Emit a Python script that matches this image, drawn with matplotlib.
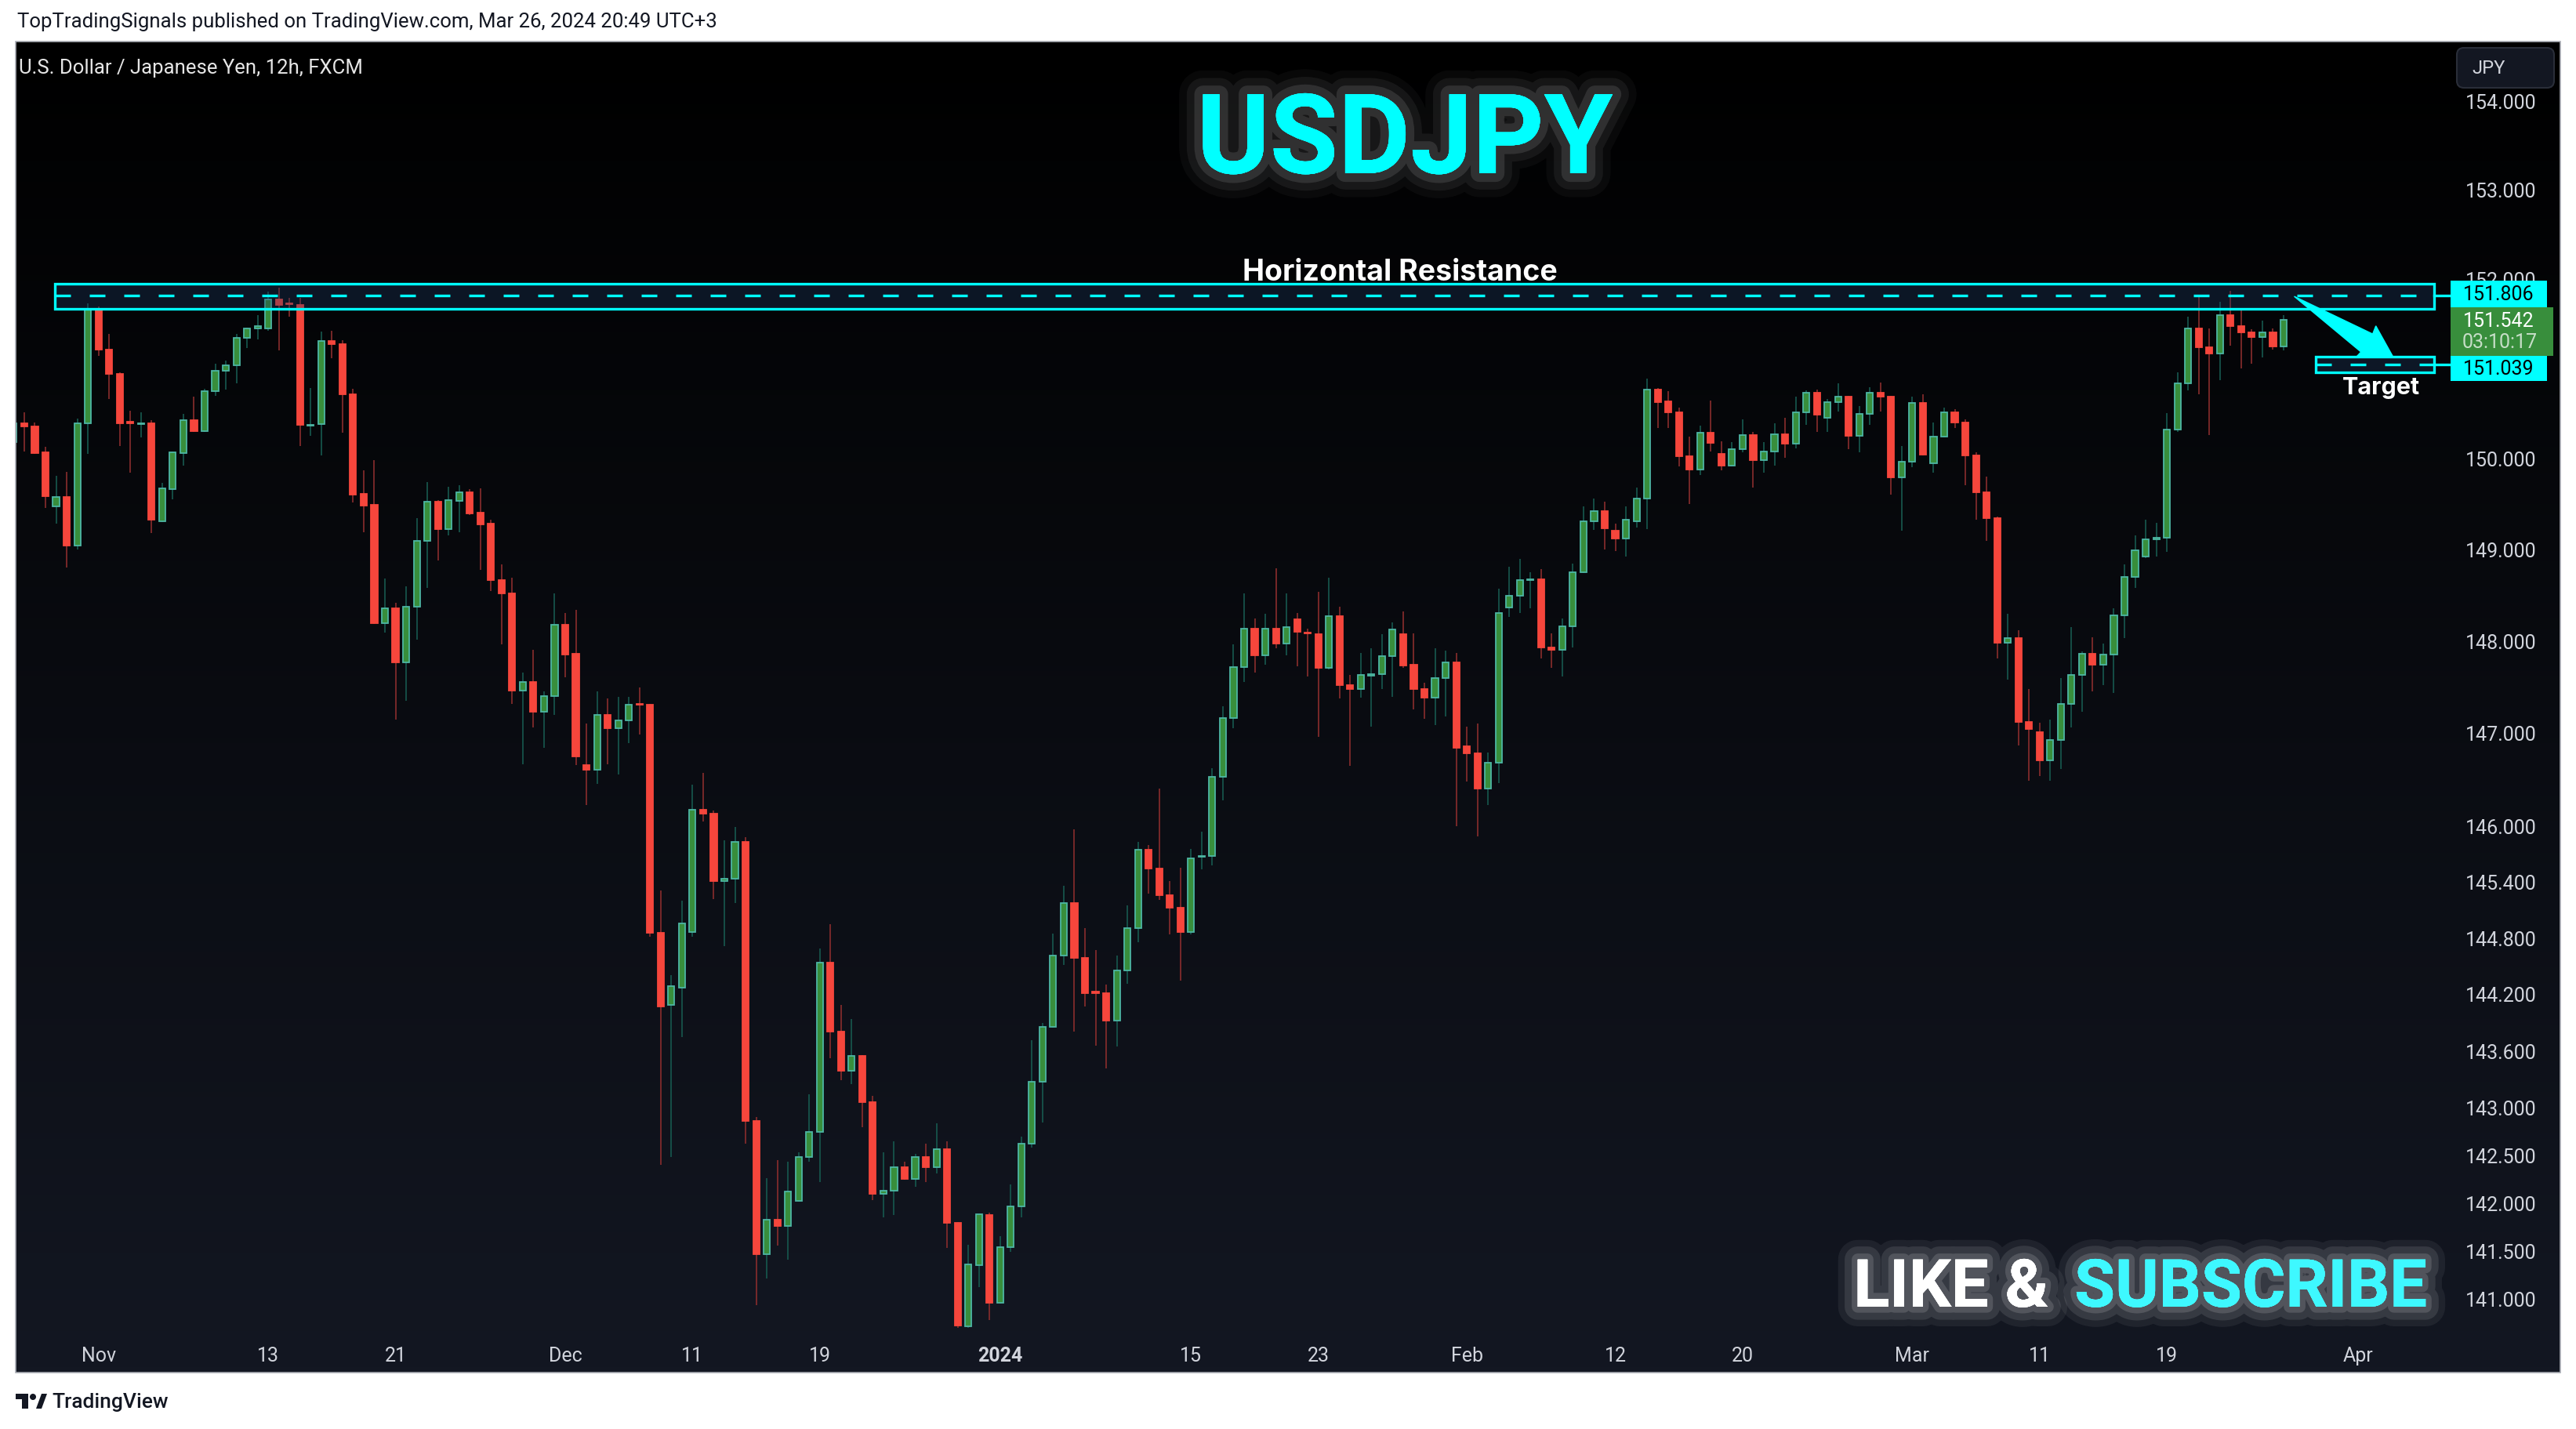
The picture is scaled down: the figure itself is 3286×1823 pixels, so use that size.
import numpy as np
import matplotlib
matplotlib.use('Agg')
import matplotlib.pyplot as plt
import matplotlib.patheffects as pe
from matplotlib.patches import Rectangle, FancyBboxPatch, Polygon, Circle
from matplotlib.transforms import IdentityTransform
from matplotlib.ticker import NullLocator, NullFormatter

plt.rcParams['font.family'] = ['Roboto', 'DejaVu Sans']

W, H = 3286, 1824

# USDJPY 12h candles, Oct 26 2023 12:00 -> Mar 26 2024 12:00 (first one is cut by the left edge)
opens = [150.18, 150.39, 150.35, 150.07, 149.47, 149.57, 149.04, 150.39, 151.66, 151.21,
         150.94, 150.40, 150.38, 150.39, 149.31, 149.66, 150.06, 150.42, 150.30, 150.74,
         150.97, 151.03, 151.34, 151.44, 151.44, 151.77, 151.72, 151.70, 150.36, 150.38,
         151.30, 151.27, 150.71, 149.61, 149.49, 148.19, 148.35, 147.76, 148.37, 149.09,
         149.52, 149.22, 149.53, 149.63, 149.40, 149.28, 148.66, 148.52, 147.46, 147.55,
         147.23, 147.40, 148.17, 147.86, 146.65, 146.60, 147.19, 147.05, 147.13, 147.31,
         147.30, 144.85, 144.08, 144.27, 144.86, 146.17, 146.13, 145.40, 145.43, 145.82,
         142.86, 141.46, 141.82, 141.76, 142.02, 142.48, 142.74, 144.53, 143.80, 143.39,
         143.54, 143.06, 142.09, 142.13, 142.37, 142.25, 142.48, 142.37, 142.56, 141.79,
         140.71, 141.35, 141.87, 140.96, 141.54, 141.96, 142.62, 143.27, 143.85, 144.61,
         145.17, 144.58, 144.22, 144.21, 143.92, 144.45, 144.90, 145.74, 145.54, 145.25,
         145.12, 144.86, 145.66, 145.67, 146.52, 147.16, 147.71, 148.13, 147.84, 148.13,
         147.97, 148.23, 148.09, 148.07, 147.70, 148.27, 147.52, 147.47, 147.62, 147.64,
         147.83, 148.07, 147.74, 147.47, 147.38, 147.59, 147.76, 146.85, 146.78, 146.40,
         146.68, 148.36, 148.49, 148.66, 148.67, 147.93, 147.90, 148.16, 148.75, 149.31,
         149.42, 149.20, 149.12, 149.31, 149.56, 150.76, 150.63, 150.51, 150.02, 149.88,
         150.28, 150.05, 149.92, 150.10, 150.26, 149.98, 150.08, 150.27, 150.16, 150.51,
         150.73, 150.45, 150.62, 150.68, 150.25, 150.49, 150.73, 150.68, 149.79, 149.96,
         150.61, 149.95, 150.24, 150.51, 150.40, 150.03, 149.63, 149.34, 147.98, 148.03,
         147.12, 147.01, 146.70, 146.92, 147.31, 147.63, 147.86, 147.74, 147.85, 148.28,
         148.70, 148.92, 149.11, 149.13, 150.32, 150.83, 151.44, 151.23, 151.16, 151.59,
         151.47, 151.40, 151.35, 151.40, 151.24]
highs = [150.42, 150.51, 150.40, 150.13, 149.81, 149.85, 150.44, 151.72, 151.69, 151.38,
         150.95, 150.53, 150.51, 150.42, 149.73, 150.08, 150.49, 150.68, 150.77, 151.05,
         151.08, 151.38, 151.45, 151.59, 151.85, 151.90, 151.78, 151.78, 150.78, 151.41,
         151.42, 151.31, 150.77, 149.87, 149.98, 148.68, 148.41, 148.59, 149.34, 149.74,
         149.54, 149.69, 149.70, 149.66, 149.67, 149.32, 148.83, 148.69, 147.65, 147.90,
         147.45, 148.52, 148.30, 148.34, 147.10, 147.45, 147.37, 147.39, 147.39, 147.49,
         147.31, 145.30, 144.40, 145.19, 146.44, 146.57, 146.16, 145.84, 145.98, 145.87,
         142.90, 142.26, 142.45, 142.43, 142.53, 143.14, 144.68, 144.94, 144.08, 143.93,
         143.55, 143.12, 142.53, 142.64, 142.43, 142.51, 142.62, 142.83, 142.64, 141.80,
         141.56, 141.89, 141.90, 141.65, 142.19, 142.69, 143.71, 143.89, 144.84, 145.35,
         145.96, 144.90, 144.67, 144.30, 144.61, 145.14, 145.82, 145.79, 146.40, 145.40,
         145.55, 145.75, 145.93, 146.62, 147.29, 147.96, 148.52, 148.24, 148.29, 148.79,
         148.52, 148.30, 148.13, 148.53, 148.69, 148.37, 147.63, 147.87, 147.92, 148.07,
         148.20, 148.32, 148.08, 147.54, 147.92, 147.89, 147.87, 147.07, 147.10, 146.79,
         148.57, 148.81, 148.89, 148.75, 148.78, 148.08, 148.24, 148.84, 149.47, 149.56,
         149.52, 149.28, 149.47, 149.68, 150.88, 150.78, 150.74, 150.56, 150.24, 150.36,
         150.64, 150.19, 150.18, 150.43, 150.29, 150.18, 150.39, 150.45, 150.68, 150.75,
         150.76, 150.66, 150.83, 150.69, 150.58, 150.79, 150.84, 150.69, 150.14, 150.68,
         150.71, 150.40, 150.56, 150.54, 150.43, 150.07, 149.80, 149.36, 148.29, 148.11,
         147.47, 147.11, 147.14, 147.59, 148.15, 147.88, 148.04, 147.97, 148.35, 148.83,
         149.15, 149.32, 149.29, 150.50, 150.95, 151.57, 151.81, 151.44, 151.74, 151.86,
         151.64, 151.43, 151.53, 151.44, 151.59]
lows = [150.15, 150.08, 150.05, 149.45, 149.28, 148.80, 149.00, 150.05, 151.14, 150.66,
        150.14, 149.84, 150.23, 149.18, 149.30, 149.55, 149.92, 150.29, 150.29, 150.69,
        150.76, 150.83, 151.22, 151.32, 151.42, 151.20, 151.57, 150.14, 150.25, 150.03,
        151.11, 150.28, 149.51, 149.19, 148.18, 148.09, 147.14, 147.35, 148.01, 148.58,
        148.88, 149.15, 149.19, 149.38, 148.77, 148.54, 147.96, 147.31, 146.66, 147.06,
        146.84, 147.19, 147.60, 146.65, 146.22, 146.45, 146.66, 146.55, 146.89, 146.98,
        144.81, 142.40, 142.48, 143.74, 144.81, 146.04, 145.21, 144.71, 145.17, 142.62,
        140.93, 141.21, 141.55, 141.41, 142.01, 142.43, 142.22, 143.52, 143.29, 143.25,
        142.79, 142.03, 141.85, 141.87, 142.24, 142.17, 142.22, 142.31, 141.53, 140.70,
        140.70, 141.12, 140.78, 140.95, 141.49, 141.85, 142.58, 142.84, 143.84, 144.51,
        143.80, 144.07, 143.65, 143.41, 143.64, 144.31, 144.75, 145.27, 145.20, 144.83,
        144.34, 144.83, 145.53, 145.57, 146.27, 147.05, 147.55, 147.65, 147.74, 147.92,
        147.84, 147.72, 147.61, 146.96, 147.69, 147.37, 146.64, 147.38, 147.07, 147.47,
        147.39, 147.70, 147.25, 147.15, 147.08, 147.18, 145.99, 146.47, 145.88, 146.22,
        146.46, 148.26, 148.30, 148.35, 147.81, 147.70, 147.61, 147.93, 148.74, 149.21,
        149.00, 148.98, 148.92, 149.24, 149.22, 150.34, 150.34, 149.91, 149.50, 149.82,
        150.08, 149.87, 149.91, 150.07, 149.68, 149.84, 149.92, 150.01, 150.11, 150.37,
        150.29, 150.29, 150.52, 150.10, 150.07, 150.37, 150.52, 149.60, 149.20, 149.90,
        150.03, 149.84, 150.23, 150.34, 149.70, 149.32, 149.09, 147.81, 147.58, 146.86,
        146.48, 146.53, 146.48, 146.61, 147.06, 147.23, 147.45, 147.52, 147.43, 148.03,
        148.58, 148.90, 148.92, 148.97, 150.29, 150.75, 150.71, 150.26, 150.87, 151.25,
        151.00, 151.05, 151.12, 151.21, 151.20]
closes = [150.39, 150.35, 150.06, 149.58, 149.57, 149.04, 150.39, 151.66, 151.21, 150.94,
          150.39, 150.39, 150.39, 149.32, 149.67, 150.07, 150.42, 150.30, 150.74, 150.97,
          151.03, 151.34, 151.44, 151.47, 151.77, 151.70, 151.71, 150.37, 150.37, 151.30,
          151.27, 150.71, 149.60, 149.48, 148.19, 148.35, 147.76, 148.37, 149.09, 149.52,
          149.22, 149.54, 149.63, 149.39, 149.27, 148.66, 148.52, 147.46, 147.55, 147.23,
          147.40, 148.17, 147.85, 146.74, 146.60, 147.19, 147.05, 147.13, 147.30, 147.30,
          144.85, 144.07, 144.28, 144.95, 146.17, 146.13, 145.40, 145.43, 145.82, 142.86,
          141.46, 141.82, 141.76, 142.12, 142.48, 142.74, 144.53, 143.80, 143.39, 143.54,
          143.06, 142.09, 142.13, 142.37, 142.25, 142.48, 142.37, 142.56, 141.79, 140.72,
          141.36, 141.88, 140.96, 141.54, 141.96, 142.62, 143.27, 143.85, 144.61, 145.17,
          144.58, 144.21, 144.21, 143.92, 144.45, 144.90, 145.74, 145.54, 145.25, 145.12,
          144.86, 145.65, 145.67, 146.52, 147.16, 147.71, 148.13, 147.84, 148.13, 147.97,
          148.15, 148.10, 148.08, 147.70, 148.27, 147.52, 147.47, 147.63, 147.63, 147.83,
          148.12, 147.73, 147.47, 147.38, 147.59, 147.76, 146.84, 146.78, 146.40, 146.68,
          148.30, 148.49, 148.66, 148.67, 147.93, 147.90, 148.16, 148.75, 149.31, 149.42,
          149.23, 149.12, 149.32, 149.56, 150.76, 150.62, 150.51, 150.02, 149.88, 150.28,
          150.17, 149.92, 150.10, 150.26, 149.98, 150.08, 150.27, 150.16, 150.51, 150.73,
          150.48, 150.62, 150.68, 150.25, 150.49, 150.73, 150.68, 149.79, 149.96, 150.61,
          150.04, 150.24, 150.51, 150.40, 150.03, 149.63, 149.34, 147.98, 148.03, 147.12,
          147.04, 146.70, 146.92, 147.31, 147.63, 147.86, 147.74, 147.85, 148.28, 148.70,
          148.99, 149.11, 149.12, 150.32, 150.83, 151.44, 151.23, 151.16, 151.59, 151.47,
          151.40, 151.35, 151.40, 151.24, 151.542]
first_bar = -1  # bar number of the first candle (Nov 1 00:00 is bar 7)

date_labels = ['Nov', '13', '21', 'Dec', '11', '19', '2024', '15', '23',
               'Feb', '12', '20', 'Mar', '11', '19', 'Apr']
date_bars = [7, 23, 35, 51, 63, 75, 92, 110, 122, 136, 150, 162, 178, 190, 202, 220]

price_ticks = [154.0, 153.0, 152.0, 151.0, 150.0, 149.0, 148.0, 147.0, 146.0,
               145.4, 144.8, 144.2, 143.6, 143.0, 142.5, 142.0, 141.5, 141.0]

# drawings
resistance = (151.937, 151.806, 151.658)   # top, mid, bottom
target = (151.125, 151.039, 150.950)
resistance_bars = (2.9, 227.2)
target_bars = (216.0, 227.2)
arrow_pts = [(214.0, 151.80), (221.4, 151.38), (221.7, 151.47),
             (223.3, 151.13), (219.9, 151.13), (220.3, 151.18)]
last_price = 151.542
countdown = '03:10:17'

CYAN = '#00ffff'
UP_BODY, UP_EDGE, UP_WICK = '#388e3c', '#4db6a4', '#17594f'
DN_BODY, DN_EDGE, DN_WICK = '#f6463c', '#f6463c', '#8a2d2d'
AXIS_TXT = '#d1d4dc'

fig = plt.figure(figsize=(W / 100, H / 100), dpi=100, facecolor='white')
ident = IdentityTransform()


def ftxt(x, y, s, **kw):
    # x, y in pixels measured from the top-left corner
    return fig.text(x / W, 1 - y / H, s, **kw)


def pbox(x, y, w, h, **kw):
    r = Rectangle((x, H - y - h), w, h, transform=ident, **kw)
    fig.add_artist(r)
    return r


# dark pane with vertical gradient
pane = [20, 54, 3266, 1752]
bg = fig.add_axes([pane[0] / W, 1 - pane[3] / H, (pane[2] - pane[0]) / W, (pane[3] - pane[1]) / H])
t = np.linspace(0, 1, 256)[:, None, None]
top_c = np.array([0, 0, 0]) / 255
bot_c = np.array([19, 23, 34]) / 255
bg.imshow(top_c + (bot_c - top_c) * t, aspect='auto', extent=[0, 1, 0, 1])
bg.set_axis_off()
bg.set_zorder(0)

ax = fig.add_axes([20 / W, 1 - 1710 / H, 3100 / W, (1710 - 54) / H])
ax.set_zorder(1)
ax.set_facecolor('none')
ax.set_yscale('log')

o = np.array(opens)
hi = np.array(highs)
lo = np.array(lows)
c = np.array(closes)
bars = np.arange(len(o)) + first_bar
up = c >= o
body_lo = np.minimum(o, c)
body_h = np.maximum(np.abs(c - o), 0.012)

ax.vlines(bars[up], lo[up], hi[up], color=UP_WICK, lw=1.2, zorder=2)
ax.vlines(bars[~up], lo[~up], hi[~up], color=DN_WICK, lw=1.2, zorder=2)
ax.bar(bars[up], body_h[up], bottom=body_lo[up], width=0.6, color=UP_BODY,
       edgecolor=UP_EDGE, linewidth=1.3, zorder=3)
ax.bar(bars[~up], body_h[~up], bottom=body_lo[~up], width=0.6, color=DN_BODY,
       edgecolor=DN_EDGE, linewidth=1.3, zorder=3)

ax.set_xlim(-0.81, 228.3)
ax.set_ylim(140.576, 154.675)

# axes, ticks
for s in ax.spines.values():
    s.set_visible(False)
ax.yaxis.tick_right()
ax.yaxis.set_minor_locator(NullLocator())
ax.yaxis.set_minor_formatter(NullFormatter())
ax.set_yticks(price_ticks)
ax.set_yticklabels([f'{p:.3f}' for p in price_ticks])
ax.tick_params(axis='y', length=0, pad=18, labelsize=18, labelcolor=AXIS_TXT)
ax.set_xticks(date_bars)
ax.set_xticklabels(date_labels)
ax.tick_params(axis='x', length=0, pad=6, labelsize=18, labelcolor=AXIS_TXT)
for lab in ax.get_xticklabels():
    if lab.get_text() == '2024':
        lab.set_fontweight('bold')

# horizontal resistance and target zones
for (ztop, zmid, zbot), (x0, x1) in [(resistance, resistance_bars), (target, target_bars)]:
    ax.add_patch(Rectangle((x0, zbot), x1 - x0, ztop - zbot, facecolor='#1e3a5f', alpha=0.35,
                           edgecolor='none', zorder=4))
    ax.add_patch(Rectangle((x0, zbot), x1 - x0, ztop - zbot, facecolor='none',
                           edgecolor=CYAN, lw=2.4, zorder=5))
    ax.hlines(zmid, x0, x1, colors=CYAN, lw=2.4, linestyles=(0, (6, 7.2)), zorder=5)
    ax.plot([x1, 228.6], [zmid, zmid], color=CYAN, lw=2.4, clip_on=False, zorder=5)

ax.add_patch(Polygon(arrow_pts, closed=True, facecolor=CYAN, edgecolor=CYAN, lw=1, zorder=6))


def py_of(price):
    return H - ax.transData.transform((0, price))[1]


# price scale labels
yr = py_of(resistance[1])
pbox(3126, yr - 19, 123, 34, facecolor=CYAN, edgecolor='none', zorder=10)
ftxt(3187, yr - 2, f'{resistance[1]:.3f}', ha='center', va='center', fontsize=18,
     color='black', zorder=11)
yl = py_of(last_price)
pbox(3126, yl - 16, 131, 62, facecolor='#388e3c', edgecolor='none', zorder=10)
ftxt(3187, yl + 1, f'{last_price:.3f}', ha='center', va='center', fontsize=18,
     color='white', zorder=11)
ftxt(3189, yl + 28, countdown, ha='center', va='center', fontsize=18,
     color='#c6dec7', zorder=11)
yt = py_of(target[1])
pbox(3126, yt - 11, 123, 32, facecolor=CYAN, edgecolor='none', zorder=10)
ftxt(3187, yt + 5, f'{target[1]:.3f}', ha='center', va='center', fontsize=18,
     color='black', zorder=11)

# currency button
fig.add_artist(FancyBboxPatch((3134, H - 113), 124, 51, boxstyle='round,pad=0,rounding_size=9',
                              transform=ident, facecolor='#131722', edgecolor='#2a2e39', lw=1.5))
ftxt(3153, 88, 'JPY', ha='left', va='center', fontsize=17, color=AXIS_TXT)

# frame
pbox(pane[0], pane[1], pane[2] - pane[0], pane[3] - pane[1], facecolor='none',
     edgecolor='#a9acb4', lw=1.2, zorder=12)

# texts
ftxt(22, 28, 'TopTradingSignals published on TradingView.com, Mar 26, 2024 20:49 UTC+3',
     ha='left', va='center', fontsize=18.5, color='#131722')
ftxt(24, 87, 'U.S. Dollar / Japanese Yen, 12h, FXCM', ha='left', va='center',
     fontsize=18.5, color='#e6e6e6')

glow = [pe.withStroke(linewidth=44, foreground='white', alpha=0.035),
        pe.withStroke(linewidth=30, foreground='white', alpha=0.06),
        pe.withStroke(linewidth=16, foreground='white', alpha=0.11),
        pe.Normal()]
narrow = ['Liberation Sans Narrow', 'Roboto', 'DejaVu Sans']
ftxt(1792, 222, 'USDJPY', ha='center', va='baseline', fontsize=102, fontweight='bold',
     family=narrow, color=CYAN, path_effects=glow)
ftxt(1786, 358, 'Horizontal Resistance', ha='center', va='baseline', fontsize=27,
     fontweight='bold', family=['Inter', 'DejaVu Sans'], color='white')
ftxt(3037, 503, 'Target', ha='center', va='baseline', fontsize=22, fontweight='bold',
     family=['Inter', 'DejaVu Sans'], color='white')

glow2 = [pe.withStroke(linewidth=36, foreground='#c8cad2', alpha=0.08),
         pe.withStroke(linewidth=24, foreground='white', alpha=0.1),
         pe.withStroke(linewidth=11, foreground='white', alpha=0.14),
         pe.Normal()]
ftxt(2613, 1668, 'LIKE &', ha='right', va='baseline', fontsize=61, fontweight='bold',
     family=narrow, color='white', path_effects=glow2)
ftxt(2646, 1668, 'SUBSCRIBE', ha='left', va='baseline', fontsize=61, fontweight='bold',
     family=narrow, color='#3ef8ff', path_effects=glow2)

# TradingView logo in the footer
logo = '#131722'
pbox(20, 1779, 16, 7, facecolor=logo, edgecolor='none')
pbox(28, 1779, 8, 19, facecolor=logo, edgecolor='none')
fig.add_artist(Circle((42, H - 1783), 4, transform=ident, facecolor=logo, edgecolor='none'))
fig.add_artist(Polygon([(46, H - 1798), (53, H - 1779), (60, H - 1779), (53, H - 1798)],
                       closed=True, transform=ident, facecolor=logo, edgecolor='none'))
ftxt(66, 1789, 'TradingView', ha='left', va='center', fontsize=19, fontweight='medium',
     color=logo)

fig.savefig('out.png', dpi=100, facecolor='white')
